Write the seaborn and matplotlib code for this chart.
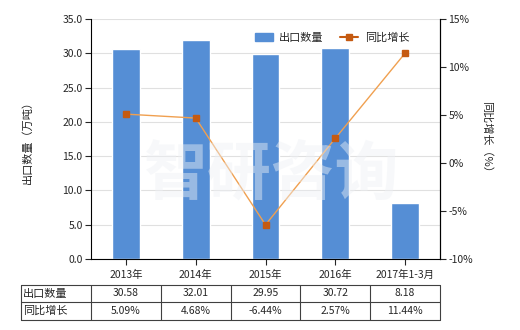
import matplotlib
matplotlib.use("Agg")
import matplotlib.pyplot as plt
import matplotlib.transforms as mtransforms
from matplotlib.lines import Line2D
import seaborn as sns
import pandas as pd

categories = ["2013年", "2014年", "2015年", "2016年", "2017年1-3月"]
export_qty = [30.58, 32.01, 29.95, 30.72, 8.18]
yoy_growth = [5.09, 4.68, -6.44, 2.57, 11.44]
qty_labels = ["30.58", "32.01", "29.95", "30.72", "8.18"]
yoy_labels = ["5.09%", "4.68%", "-6.44%", "2.57%", "11.44%"]
row_names = ["出口数量", "同比增长"]
left_ticks = [0, 5, 10, 15, 20, 25, 30, 35]
right_ticks = [-10, -5, 0, 5, 10, 15]

sns.set_style("white")
plt.rcParams['font.family'] = ['Noto Sans CJK SC', 'DejaVu Sans']
plt.rcParams['font.size'] = 7.5

fig = plt.figure(figsize=(5.2, 3.3), dpi=100)
ax = fig.add_axes([91/520, 1-259/330, (440-91)/520, (259-19)/330])

df = pd.DataFrame({"cat": categories, "qty": export_qty, "yoy": yoy_growth})
sns.barplot(data=df, x="cat", y="qty", ax=ax, color="#558ED5", width=0.4,
            saturation=1, zorder=2)
ax.set_xlim(-0.5, 4.5)
ax.set_ylim(0, 35)
ax.set_yticks(left_ticks)
ax.set_yticklabels([f"{v:.1f}" for v in left_ticks])
ax.grid(axis="y", color="#E0E0E0", linewidth=0.8, zorder=0)
ax.set_axisbelow(True)
ax.set_xlabel("")
ax.set_ylabel("出口数量（万吨）", fontsize=8, labelpad=21)
ax.spines["top"].set_visible(False)
for s in ["left", "bottom", "right"]:
    ax.spines[s].set_color("black")
    ax.spines[s].set_linewidth(0.8)
ax.tick_params(axis="y", direction="out", length=4, width=0.8, left=True, pad=2)
ax.tick_params(axis="x", direction="out", length=4, width=0.8, bottom=True, pad=4)

ax2 = ax.twinx()
ax2.plot(range(len(categories)), yoy_growth, color="#F0A050", linewidth=1,
         marker="s", markersize=5, markerfacecolor="#C55A11",
         markeredgecolor="#C55A11", zorder=3)
ax2.set_ylim(-10, 15)
ax2.set_yticks(right_ticks)
ax2.set_yticklabels([f"{v}%" for v in right_ticks])
ax2.set_ylabel("同比增长（%）", fontsize=8, rotation=-90, labelpad=14)
for s in ["top", "left", "bottom"]:
    ax2.spines[s].set_visible(False)
ax2.spines["right"].set_color("black")
ax2.spines["right"].set_linewidth(0.8)
ax2.tick_params(axis="y", direction="out", length=4, width=0.8, right=True, pad=2)

# watermark
fig.text(0.52, 0.47, "智研咨询", fontsize=46, color="#EEF1F5", alpha=0.45,
         ha="center", va="center", fontweight="bold", zorder=10)

# legend
h1 = plt.Rectangle((0, 0), 1, 1, color="#558ED5")
h2 = Line2D([0], [0], color="#C55A11", linewidth=1.5, marker="s", markersize=4,
            markerfacecolor="#C55A11")
fig.legend([h1, h2], ["出口数量", "同比增长"], loc="center",
           bbox_to_anchor=(332/520, 1-38/330), ncol=2, frameon=False,
           fontsize=8, handlelength=1.6, columnspacing=1.5, handletextpad=0.6)

# data table
tr = mtransforms.blended_transform_factory(ax.transData, fig.transFigure)
y_top = 1 - 285/330
y_mid = 1 - 302/330
y_bot = 1 - 320/330
x_left = -1.5
x_right = 4.5
for yv in [y_top, y_mid, y_bot]:
    fig.add_artist(Line2D([x_left, x_right], [yv, yv], transform=tr,
                          color="#404040", linewidth=0.8))
for xv in [x_left] + [i + 0.5 for i in range(-1, len(categories))]:
    fig.add_artist(Line2D([xv, xv], [y_top, y_bot], transform=tr,
                          color="#404040", linewidth=0.8))
for r, (name, labels) in enumerate(zip(row_names, [qty_labels, yoy_labels])):
    yc = (y_top + y_mid) / 2 if r == 0 else (y_mid + y_bot) / 2
    fig.text(x_left + 0.03, yc, name, transform=tr, ha="left", va="center",
             fontsize=8)
    for i, lab in enumerate(labels):
        fig.text(i, yc, lab, transform=tr, ha="center", va="center", fontsize=7.5)

fig.savefig("out.png", dpi=100)
